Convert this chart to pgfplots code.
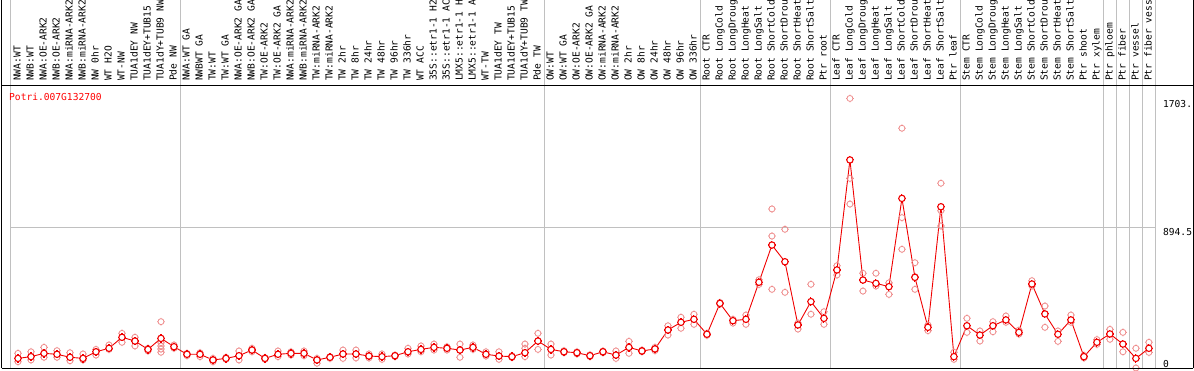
\documentclass[border=0pt]{standalone}
\usepackage{pgfplots}
\pgfplotsset{compat=1.18}
\usepackage{pgfplotstable}
\usepackage{fontspec}
\setmainfont{DejaVu Sans Mono}
\definecolor{sepgray}{RGB}{192,192,192}
\definecolor{repred}{RGB}{238,140,140}
\definecolor{meanred}{RGB}{240,0,0}

\pgfdeclareplotmark{repo}{%
  \pgfpathcircle{\pgfpointorigin}{\pgfplotmarksize}%
  \pgfpathmoveto{\pgfqpoint{\pgfplotmarksize}{0pt}}\pgfpathlineto{\pgfqpoint{1.3\pgfplotmarksize}{0pt}}%
  \pgfpathmoveto{\pgfqpoint{-\pgfplotmarksize}{0pt}}\pgfpathlineto{\pgfqpoint{-1.3\pgfplotmarksize}{0pt}}%
  \pgfpathmoveto{\pgfqpoint{0pt}{\pgfplotmarksize}}\pgfpathlineto{\pgfqpoint{0pt}{1.3\pgfplotmarksize}}%
  \pgfpathmoveto{\pgfqpoint{0pt}{-\pgfplotmarksize}}\pgfpathlineto{\pgfqpoint{0pt}{-1.3\pgfplotmarksize}}%
  \pgfusepathqstroke
}
\pgfdeclareplotmark{meano}{%
  \pgfsetfillcolor{white}%
  \pgfpathcircle{\pgfpointorigin}{\pgfplotmarksize}%
  \pgfusepathqfillstroke
  \pgfpathmoveto{\pgfqpoint{\pgfplotmarksize}{0pt}}\pgfpathlineto{\pgfqpoint{1.3\pgfplotmarksize}{0pt}}%
  \pgfpathmoveto{\pgfqpoint{-\pgfplotmarksize}{0pt}}\pgfpathlineto{\pgfqpoint{-1.3\pgfplotmarksize}{0pt}}%
  \pgfpathmoveto{\pgfqpoint{0pt}{\pgfplotmarksize}}\pgfpathlineto{\pgfqpoint{0pt}{1.3\pgfplotmarksize}}%
  \pgfpathmoveto{\pgfqpoint{0pt}{-\pgfplotmarksize}}\pgfpathlineto{\pgfqpoint{0pt}{-1.3\pgfplotmarksize}}%
  \pgfusepathqstroke
}

\pgfplotstableread{
x y
0 61
1 72
2 93
3 87
4 68
5 61
6 103
7 125
8 195
9 171
10 118
11 188
12 135
13 87
14 87
15 51
16 61
17 78
18 114
19 61
20 87
21 93
22 93
23 51
24 68
25 89
26 89
27 76
28 72
29 78
30 103
31 118
32 131
33 125
34 114
35 131
36 87
37 76
38 72
39 97
40 171
41 118
42 103
43 97
44 78
45 103
46 82
47 131
48 108
49 121
50 241
51 290
52 309
53 214
54 410
55 300
56 309
57 544
58 780
59 674
60 273
61 421
62 315
63 622
64 1320
65 558
66 537
67 516
68 1076
69 575
70 258
71 1023
72 72
73 268
74 209
75 268
76 305
77 226
78 533
79 343
80 214
81 305
82 72
83 163
84 216
85 152
86 61
87 125
}\means

\pgfplotstableread{
x y
0 93
0 40
1 103
1 51
2 131
2 68
3 110
3 68
4 97
4 46
5 89
5 51
6 118
6 82
7 146
7 118
8 220
8 163
9 195
9 140
10 125
10 108
11 294
11 160
11 140
11 120
11 100
12 146
12 125
13 93
13 78
14 97
14 72
15 40
15 61
16 68
16 55
17 108
17 51
18 125
18 103
19 66
19 55
20 108
20 72
21 103
21 82
22 108
22 78
23 61
23 30
24 72
24 61
25 114
25 61
26 114
26 64
27 89
27 64
28 89
28 55
29 82
29 72
30 125
30 89
31 140
31 103
32 152
32 114
33 135
33 114
34 152
34 68
35 146
35 118
36 103
36 76
37 103
37 55
38 78
38 66
39 152
39 125
39 72
40 220
40 118
41 152
41 82
42 110
42 97
43 103
43 89
44 84
44 72
45 108
45 97
46 108
46 61
47 169
47 93
48 114
48 103
49 131
49 110
50 268
50 209
51 322
51 252
52 341
52 277
53 220
53 207
54 416
54 404
55 309
55 285
56 336
56 277
57 560
57 530
58 1009
58 837
58 499
59 880
59 480
60 285
60 247
61 531
61 341
62 357
62 277
63 649
63 590
64 1710
64 1203
64 1040
65 601
65 488
66 601
66 520
67 540
67 467
68 1521
68 954
68 753
69 668
69 499
69 580
70 273
70 237
71 1172
71 998
71 901
72 100
72 55
73 315
73 226
74 235
74 171
75 294
75 230
76 330
76 290
77 240
77 215
78 554
78 520
79 393
79 258
80 235
80 169
81 336
81 290
82 80
82 64
83 180
83 150
84 245
84 182
85 226
85 103
86 125
86 0
87 163
87 99
}\reps

\begin{document}
\begin{tikzpicture}[font=\fontsize{9.6}{11}\selectfont]
\path[use as bounding box] (-10pt,-2pt) rectangle (1184pt,368pt);
\begin{axis}[
  at={(0pt,0pt)}, anchor=south west,
  scale only axis, width=1146pt, height=282pt,
  xmin=-0.615, xmax=87.54, ymin=0, ymax=1789,
  clip=false,
  axis line style={draw=none},
  major tick length=0pt,
  tick style={draw=none},
  xtick={0,...,87},
  xticklabel pos=top,
  xticklabels={NWA:WT,NWB:WT,NWA:OE-ARK2,NWB:OE-ARK2,NWA:miRNA-ARK2,NWB:miRNA-ARK2,NW 0hr,WT H2O,WT-NW,TUA1dEY NW,TUA1dEY+TUB15,TUA1dY+TUB9 NW,Pde NW,
    NWA:WT GA,NWBWT GA,TW:WT,TW:WT GA,NWA:OE-ARK2 GA,NWB:OE-ARK2 GA,TW:OE-ARK2,TW:OE-ARK2 GA,NWA:miRNA-ARK2,NWB:miRNA-ARK2,TW:miRNA-ARK2,TW:miRNA-ARK2,TW 2hr,TW 8hr,TW 24hr,TW 48hr,TW 96hr,TW 336hr,WT ACC,35S::etr1-1 H2,35S::etr1-1 AC,LMX5::etr1-1 H,LMX5::etr1-1 A,WT-TW,TUA1dEY TW,TUA1dEY+TUB15,TUA1dY+TUB9 TW,Pde TW,
    OW:WT,OW:WT GA,OW:OE-ARK2,OW:OE-ARK2 GA,OW:miRNA-ARK2,OW:miRNA-ARK2,OW 2hr,OW 8hr,OW 24hr,OW 48hr,OW 96hr,OW 336hr,
    Root CTR,Root LongCold,Root LongDroug,Root LongHeat,Root LongSalt,Root ShortCold,Root ShortDrou,Root ShortHeat,Root ShortSalt,Ptr root,
    Leaf CTR,Leaf LongCold,Leaf LongDroug,Leaf LongHeat,Leaf LongSalt,Leaf ShortCold,Leaf ShortDrou,Leaf ShortHeat,Leaf ShortSalt,Ptr leaf,
    Stem CTR,Stem LongCold,Stem LongDroug,Stem LongHeat,Stem LongSalt,Stem ShortCold,Stem ShortDrou,Stem ShortHeat,Stem ShortSalt,Ptr shoot,
    Ptr xylem,Ptr phloem,Ptr fiber,Ptr vessel,Ptr fiber vess},
  xticklabel style={rotate=90, anchor=mid west, inner sep=0pt, inner xsep=5pt},
  ytick={0,894.5,1703},
  yticklabels={{\raisebox{2.5pt}[0pt][0pt]{0}},894.5,1703.},
  yticklabel pos=right,
  yticklabel style={anchor=north west, inner sep=0pt, xshift=7pt, yshift=-1pt},
]
\draw[sepgray, line width=0.9pt] (axis cs:-0.615,0) -- (axis cs:-0.615,2334.6);
\draw[sepgray, line width=0.9pt] (axis cs:12.5,0) -- (axis cs:12.5,2334.6);
\draw[sepgray, line width=0.9pt] (axis cs:40.5,0) -- (axis cs:40.5,2334.6);
\draw[sepgray, line width=0.9pt] (axis cs:52.5,0) -- (axis cs:52.5,2334.6);
\draw[sepgray, line width=0.9pt] (axis cs:62.5,0) -- (axis cs:62.5,2334.6);
\draw[sepgray, line width=0.9pt] (axis cs:72.5,0) -- (axis cs:72.5,2334.6);
\draw[sepgray, line width=0.9pt] (axis cs:83.5,0) -- (axis cs:83.5,2334.6);
\draw[sepgray, line width=0.9pt] (axis cs:84.5,0) -- (axis cs:84.5,2334.6);
\draw[sepgray, line width=0.9pt] (axis cs:85.5,0) -- (axis cs:85.5,2334.6);
\draw[sepgray, line width=0.9pt] (axis cs:86.5,0) -- (axis cs:86.5,2334.6);
\draw[sepgray, line width=0.9pt] (axis cs:87.54,0) -- (axis cs:87.54,2334.6);
\draw[sepgray, line width=0.9pt] (axis cs:-0.615,894.5) -- (axis cs:87.54,894.5);
\addplot[only marks, mark=repo, mark size=3pt, color=repred, mark options={line width=0.8pt}] table[x=x,y=y] {\reps};
\addplot[color=meanred, line width=0.9pt, mark=meano, mark size=3.2pt, mark options={line width=1.1pt, draw=meanred}] table[x=x,y=y] {\means};
\node[anchor=west, inner sep=0pt, text=red] at ([xshift=-1pt]rel axis cs:0,0.961) {Potri.007G132700};
\end{axis}
\draw[black, line width=1pt] (-8.5pt,-0.3pt) -- (-8.5pt,368pt);
\draw[black, line width=1pt] (1183pt,-0.3pt) -- (1183pt,368pt);
\draw[black, line width=1pt] (-8.5pt,-0.3pt) -- (1183pt,-0.3pt);
\draw[black, line width=1pt] (-8.5pt,282pt) -- (1183pt,282pt);
\end{tikzpicture}
\end{document}
